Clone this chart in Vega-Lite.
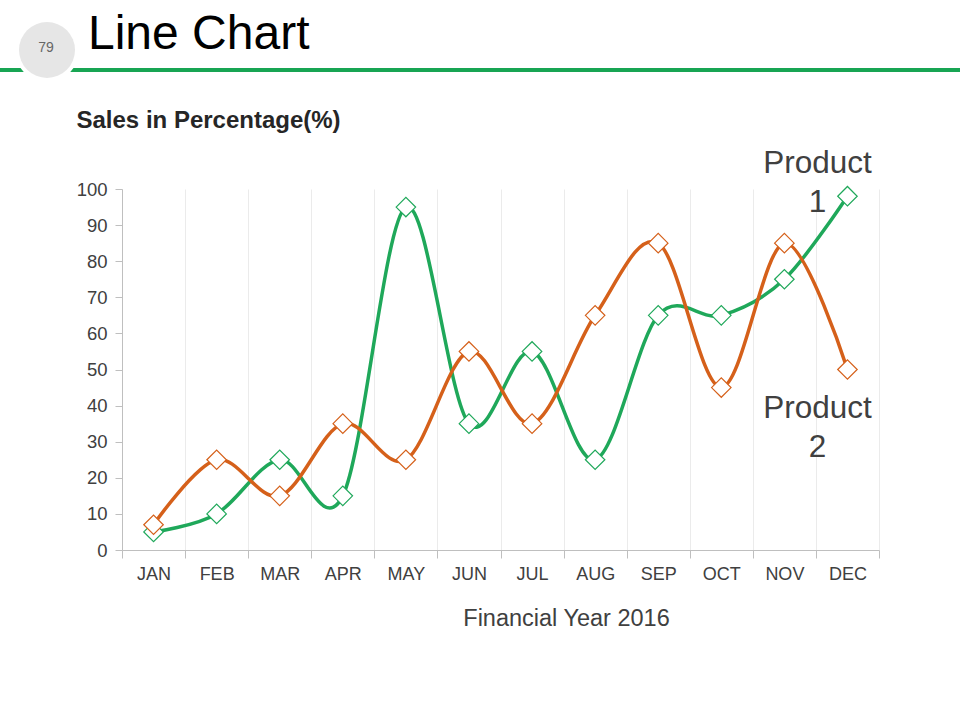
{
  "$schema": "https://vega.github.io/schema/vega-lite/v6.json",
  "width": 757,
  "height": 361,
  "autosize": {"type": "none"},
  "padding": {"left": 122, "top": 189, "right": 81, "bottom": 170},
  "background": "white",
  "title": {
    "text": "Line Chart",
    "anchor": "start",
    "frame": "group",
    "orient": "top",
    "dx": -34,
    "dy": 41,
    "offset": 0,
    "baseline": "top",
    "fontSize": 48,
    "fontWeight": "normal",
    "font": "Liberation Sans",
    "color": "#000000"
  },
  "config": {
    "font": "Liberation Sans",
    "view": {"stroke": null},
    "axis": {
      "labelFont": "Liberation Sans",
      "titleFont": "Liberation Sans",
      "labelColor": "#404040",
      "domainColor": "#bfbfbf",
      "tickColor": "#bfbfbf"
    }
  },
  "datasets": {
    "sales": [
      {"month": "JAN", "series": "Product 1", "value": 5},
      {"month": "FEB", "series": "Product 1", "value": 10},
      {"month": "MAR", "series": "Product 1", "value": 25},
      {"month": "APR", "series": "Product 1", "value": 15},
      {"month": "MAY", "series": "Product 1", "value": 95},
      {"month": "JUN", "series": "Product 1", "value": 35},
      {"month": "JUL", "series": "Product 1", "value": 55},
      {"month": "AUG", "series": "Product 1", "value": 25},
      {"month": "SEP", "series": "Product 1", "value": 65},
      {"month": "OCT", "series": "Product 1", "value": 65},
      {"month": "NOV", "series": "Product 1", "value": 75},
      {"month": "DEC", "series": "Product 1", "value": 98},
      {"month": "JAN", "series": "Product 2", "value": 7},
      {"month": "FEB", "series": "Product 2", "value": 25},
      {"month": "MAR", "series": "Product 2", "value": 15},
      {"month": "APR", "series": "Product 2", "value": 35},
      {"month": "MAY", "series": "Product 2", "value": 25},
      {"month": "JUN", "series": "Product 2", "value": 55},
      {"month": "JUL", "series": "Product 2", "value": 35},
      {"month": "AUG", "series": "Product 2", "value": 65},
      {"month": "SEP", "series": "Product 2", "value": 85},
      {"month": "OCT", "series": "Product 2", "value": 45},
      {"month": "NOV", "series": "Product 2", "value": 85},
      {"month": "DEC", "series": "Product 2", "value": 50}
    ],
    "page": [{"page": "79"}]
  },
  "data": {"name": "sales"},
  "encoding": {
    "x": {
      "field": "month",
      "type": "nominal",
      "sort": ["JAN","FEB","MAR","APR","MAY","JUN","JUL","AUG","SEP","OCT","NOV","DEC"],
      "scale": {"type": "band", "paddingInner": 0, "paddingOuter": 0},
      "axis": {
        "title": "Financial Year 2016",
        "labelAngle": 0,
        "labelFontSize": 18,
        "labelPadding": 7,
        "tickBand": "extent",
        "tickSize": 8,
        "grid": true,
        "gridColor": "#ebebeb",
        "titleFontSize": 23.5,
        "titleFontWeight": "normal",
        "titleColor": "#404040",
        "titleX": 444,
        "titleY": 75,
        "titleAlign": "center",
        "titleBaseline": "alphabetic"
      }
    },
    "y": {
      "field": "value",
      "type": "quantitative",
      "scale": {"domain": [0, 100], "nice": false},
      "axis": {
        "values": [0,10,20,30,40,50,60,70,80,90,100],
        "tickCount": 11,
        "labelOverlap": false,
        "grid": false,
        "tickSize": 7,
        "labelFontSize": 18.5,
        "labelPadding": 8,
        "title": "Sales in Percentage(%)",
        "titleAngle": 0,
        "titleX": -46,
        "titleY": -62,
        "titleAlign": "left",
        "titleBaseline": "alphabetic",
        "titleFontSize": 24,
        "titleFontWeight": "bold",
        "titleColor": "#262626"
      }
    }
  },
  "layer": [
    {
      "data": {"name": "page"},
      "mark": {"type": "rule", "color": "#18a553", "strokeWidth": 4},
      "encoding": {
        "x": {"value": -122},
        "x2": {"value": 838},
        "y": {"value": -119}
      }
    },
    {
      "data": {"name": "page"},
      "mark": {"type": "circle", "size": 4096, "fill": "#ffffff", "opacity": 1},
      "encoding": {
        "x": {"value": -75},
        "y": {"value": -139}
      }
    },
    {
      "data": {"name": "page"},
      "mark": {"type": "circle", "size": 3136, "fill": "#e6e6e6", "opacity": 1},
      "encoding": {
        "x": {"value": -75},
        "y": {"value": -139}
      }
    },
    {
      "data": {"name": "page"},
      "mark": {"type": "text", "fontSize": 14, "color": "#666666", "align": "center", "baseline": "middle"},
      "encoding": {
        "x": {"value": -76},
        "y": {"value": -141},
        "text": {"field": "page"}
      }
    },
    {
      "mark": {"type": "line", "interpolate": "cardinal", "strokeWidth": 3.5},
      "encoding": {
        "color": {
          "field": "series",
          "type": "nominal",
          "scale": {"domain": ["Product 1", "Product 2"], "range": ["#1fa85a", "#d5601a"]},
          "legend": null
        }
      }
    },
    {
      "mark": {"type": "point", "shape": "diamond", "size": 380, "filled": true, "fill": "#ffffff", "strokeWidth": 1.2, "opacity": 1},
      "encoding": {
        "stroke": {
          "field": "series",
          "type": "nominal",
          "scale": {"domain": ["Product 1", "Product 2"], "range": ["#1fa85a", "#d5601a"]},
          "legend": null
        }
      }
    },
    {
      "transform": [{"filter": "datum.month === 'DEC' && datum.series === 'Product 1'"}],
      "mark": {"type": "text", "lineBreak": " ", "fontSize": 31.5, "lineHeight": 39, "align": "center", "baseline": "alphabetic", "dx": -30, "dy": -23, "color": "#404040"},
      "encoding": {
        "text": {"field": "series"}
      }
    },
    {
      "transform": [{"filter": "datum.month === 'DEC' && datum.series === 'Product 2'"}],
      "mark": {"type": "text", "lineBreak": " ", "fontSize": 31.5, "lineHeight": 39, "align": "center", "baseline": "alphabetic", "dx": -30, "dy": 48, "color": "#404040"},
      "encoding": {
        "text": {"field": "series"}
      }
    }
  ]
}
